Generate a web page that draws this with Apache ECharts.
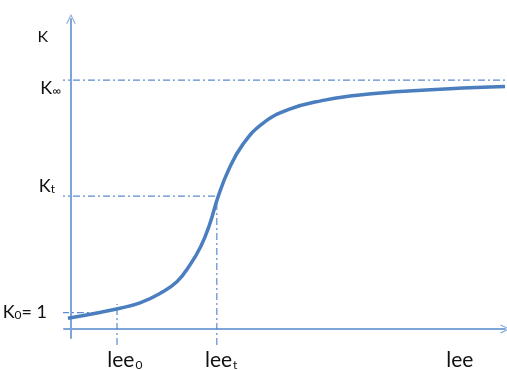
<!DOCTYPE html>
<html>
<head>
<meta charset="utf-8">
<script src="https://cdn.jsdelivr.net/npm/echarts@6/dist/echarts.min.js"></script>
<style>html,body{margin:0;padding:0;background:#fff}#c{width:507px;height:370px}</style>
</head>
<body>
<div id="c"></div>
<script>
// Curve K(lee) (x: 0..100 along lee axis, y: 0..~98 along K axis)
const curveX = [-0.7, 6.0, 11.3, 15.9, 20.5, 24.4, 27.4, 29.9, 31.9, 33.9, 36.3, 39.6, 44.2, 50.2, 57.8, 65.4, 73.9, 87.3, 100];
const curveY = [3.4, 5.1, 6.6, 8.3, 11.3, 15.0, 20.3, 26.2, 33.0, 42.0, 50.5, 58.6, 65.3, 69.7, 72.5, 74.1, 75.2, 76.3, 77.0];

// Reference levels
const kInf = 79.0, kT = 42.2, k0 = 5.2;
const lee0 = 10.6, leeT = 33.6;
const lineStartX = -3.0, k0StartX = -2.1, k0EndX = 6.2, lineEndX = 100;
const vertBottom = -5.1, lee0Top = 7.9;

// Tick labels
const yLabelPos = [76.5, 45.2, 5.2];
const yLabelText = ['{k|K}{inf|∞}', '{k|K}{sub|t}{g1|}', '{k|K}{sub|0}{k|= 1}{g2|}'];
const xLabelPos = [12.4, 34.6, 89.6];
const xLabelText = ['{l|lee}{sub|0}', '{l|lee}{sub|t}', '{l|lee}'];

const curve = curveX.map((x, i) => [x, curveY[i]]);
const dashType = [7, 3, 2, 3];
const refColor = '#5b8bd0';
const axisColor = '#7da5da';
const chevron = 'path://M0,10 L5,0 L10,10 L9,10.6 L5,2.2 L1,10.6 Z';

function refLine(data) {
  return {
    type: 'line', data: data, showSymbol: false, symbol: 'none', clip: false, silent: true, z: 1,
    lineStyle: { color: refColor, width: 1.2, type: dashType }
  };
}

const chart = echarts.init(document.getElementById('c'), null, { renderer: 'canvas' });
chart.setOption({
  animation: false,
  grid: { left: 64, right: 2, top: 19, bottom: 32, containLabel: false, outerBoundsMode: 'none' },
  xAxis: {
    type: 'value', min: -1.61, max: 100,
    splitLine: { show: false },
    axisLine: { onZero: true, lineStyle: { color: axisColor, width: 2 }, symbol: ['none', chevron], symbolSize: [9, 10], symbolOffset: [0, 0] },
    axisTick: { show: false },
    axisLabel: {
      customValues: xLabelPos,
      margin: 12,
      formatter: v => xLabelText[xLabelPos.indexOf(v)] || '',
      rich: {
        l: { fontFamily: 'Lato', fontSize: 21, color: '#111' },
        sub: { fontFamily: 'Lato', fontSize: 12, color: '#111', verticalAlign: 'bottom', padding: [0, 0, 0, 1] }
      }
    }
  },
  yAxis: {
    type: 'value', min: -2.86, max: 98.41,
    name: 'K', nameLocation: 'end', nameGap: -26,
    nameTextStyle: { fontFamily: 'Lato', fontSize: 16, color: '#111', align: 'right', padding: [0, 23, 0, 0], verticalAlign: 'bottom' },
    splitLine: { show: false },
    axisLine: { onZero: true, lineStyle: { color: axisColor, width: 2 }, symbol: ['none', chevron], symbolSize: [10, 10], symbolOffset: [0, 0] },
    axisTick: { show: false },
    axisLabel: {
      customValues: yLabelPos,
      margin: 3,
      formatter: v => yLabelText[yLabelPos.indexOf(v)] || '',
      rich: {
        k: { fontFamily: 'Lato', fontSize: 18, color: '#111' },
        inf: { fontFamily: 'Lato', fontSize: 12, color: '#111', verticalAlign: 'bottom' },
        sub: { fontFamily: 'Lato', fontSize: 12, color: '#111', verticalAlign: 'bottom' },
        g1: { width: 6 },
        g2: { width: 14 }
      }
    }
  },
  series: [
    refLine([[lineStartX, kInf], [lineEndX, kInf]]),
    refLine([[lineStartX, kT], [leeT, kT]]),
    refLine([[k0StartX, k0], [k0EndX, k0]]),
    refLine([[lee0, vertBottom], [lee0, lee0Top]]),
    refLine([[leeT, vertBottom], [leeT, kT]]),
    {
      type: 'line', data: curve, smooth: 0.45, showSymbol: false, symbol: 'none', clip: false, z: 3,
      lineStyle: { color: '#4a7ebf', width: 3.5 }
    }
  ]
});
</script>
</body>
</html>
